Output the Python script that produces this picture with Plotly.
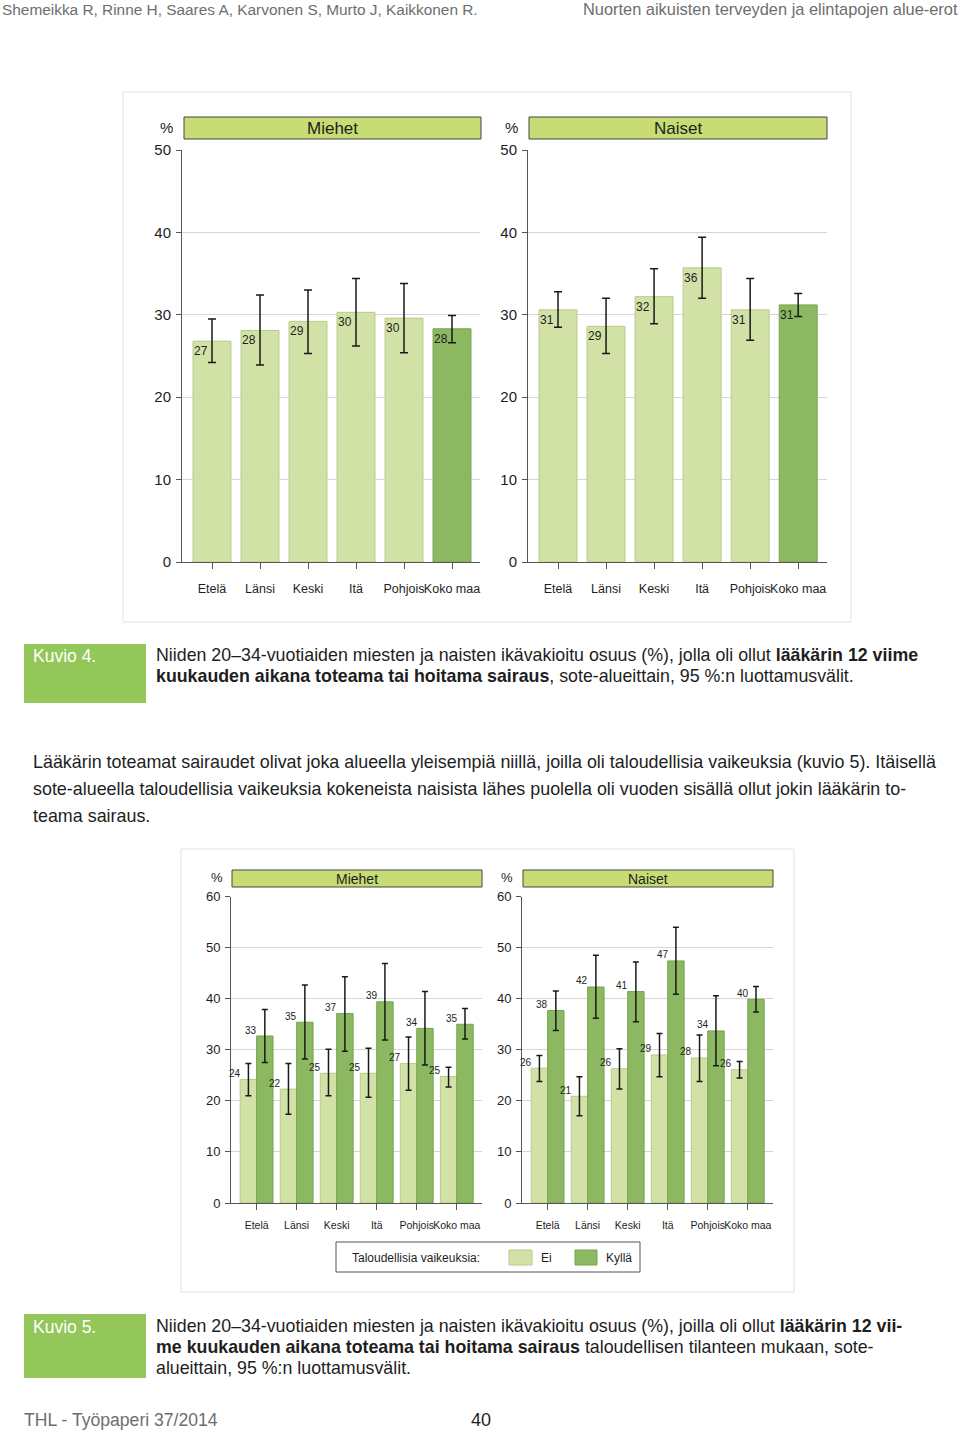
import plotly.graph_objects as go

W, H = 960, 1432

# ---------------- data ----------------
regions = ["Etelä", "Länsi", "Keski", "Itä", "Pohjois", "Koko maa"]

# Kuvio 4
men4 = [26.8, 28.1, 29.2, 30.3, 29.6, 28.3]
men4_hi = [29.5, 32.4, 33.0, 34.4, 33.8, 29.9]
men4_lo = [24.2, 23.9, 25.3, 26.2, 25.4, 26.6]
women4 = [30.6, 28.6, 32.2, 35.7, 30.6, 31.2]
women4_hi = [32.8, 32.0, 35.6, 39.4, 34.4, 32.6]
women4_lo = [28.5, 25.3, 28.9, 32.0, 26.9, 29.8]

# Kuvio 5 (Ei / Kyllä = taloudellisia vaikeuksia)
men5_ei = [24.2, 22.3, 25.4, 25.4, 27.3, 24.8]
men5_ei_hi = [27.3, 27.3, 30.1, 30.3, 32.5, 26.6]
men5_ei_lo = [21.0, 17.4, 21.0, 20.7, 22.1, 22.7]
men5_ky = [32.7, 35.4, 37.1, 39.4, 34.2, 35.0]
men5_ky_hi = [37.9, 42.7, 44.3, 46.9, 41.4, 38.1]
men5_ky_lo = [27.5, 28.2, 29.7, 31.9, 27.0, 32.1]
women5_ei = [26.4, 20.9, 26.3, 29.0, 28.4, 26.1]
women5_ei_hi = [28.9, 24.7, 30.2, 33.2, 32.9, 27.7]
women5_ei_lo = [23.8, 17.1, 22.3, 24.7, 23.8, 24.5]
women5_ky = [37.7, 42.3, 41.4, 47.4, 33.7, 39.9]
women5_ky_hi = [41.5, 48.5, 47.2, 54.0, 40.6, 42.4]
women5_ky_lo = [33.8, 36.2, 35.5, 40.9, 26.9, 37.4]

# ---------------- style ----------------
LIGHT, LIGHT_LINE = "#d2e2a7", "#b7ca8c"
DARK, DARK_LINE = "#8bb860", "#77a44f"
TITLE_FILL = "#c7dc74"
KUVIO_FILL = "#93c75a"
AXIS = "#555555"
GRID = "#d6d6d6"
TXT = "#1e1e1e"
FONT = "Liberation Sans, Arial, sans-serif"


def px(x):
    return x / W


def py(y):
    return 1 - y / H


fig = go.Figure()
annotations = []
shapes = []


def err(hi, lo, vals, w):
    return dict(type="data", symmetric=False,
                array=[h - v for h, v in zip(hi, vals)],
                arrayminus=[v - l for v, l in zip(vals, lo)],
                color="#1a1a1a", thickness=1.5, width=w)


def add_single(vals, hi, lo, xa, ya):
    colors = [LIGHT] * 5 + [DARK]
    lines = [LIGHT_LINE] * 5 + [DARK_LINE]
    fig.add_trace(go.Bar(x=regions, y=vals, width=0.79, offset=-0.395,
                         marker=dict(color=colors, line=dict(color=lines, width=1)),
                         error_y=err(hi, lo, vals, 4), xaxis=xa, yaxis=ya,
                         showlegend=False, hoverinfo="skip"))
    for i, v in enumerate(vals):
        annotations.append(dict(x=i - 0.395, y=v, xref=xa, yref=ya,
                                text=str(round(v)), showarrow=False, xanchor="left",
                                yanchor="middle", yshift=-10, xshift=-1,
                                font=dict(size=12, color=TXT, family=FONT)))


def add_group(ei, ei_hi, ei_lo, ky, ky_hi, ky_lo, xa, ya):
    bw = 0.41
    fig.add_trace(go.Bar(x=regions, y=ei, width=bw, offset=-bw, name="Ei",
                         marker=dict(color=LIGHT, line=dict(color=LIGHT_LINE, width=1)),
                         error_y=err(ei_hi, ei_lo, ei, 3), xaxis=xa, yaxis=ya,
                         showlegend=False, hoverinfo="skip"))
    fig.add_trace(go.Bar(x=regions, y=ky, width=bw, offset=0, name="Kyllä",
                         marker=dict(color=DARK, line=dict(color=DARK_LINE, width=1)),
                         error_y=err(ky_hi, ky_lo, ky, 3), xaxis=xa, yaxis=ya,
                         showlegend=False, hoverinfo="skip"))
    for i, v in enumerate(ei):
        annotations.append(dict(x=i - bw + 0.07, y=v, xref=xa, yref=ya,
                                text=str(round(v)), showarrow=False, xanchor="right",
                                yanchor="middle", yshift=6,
                                font=dict(size=10, color=TXT, family=FONT)))
    for i, v in enumerate(ky):
        annotations.append(dict(x=i + 0.07, y=v, xref=xa, yref=ya,
                                text=str(round(v)), showarrow=False, xanchor="right",
                                yanchor="middle", yshift=6,
                                font=dict(size=10, color=TXT, family=FONT)))


add_single(men4, men4_hi, men4_lo, "x", "y")
add_single(women4, women4_hi, women4_lo, "x2", "y2")
add_group(men5_ei, men5_ei_hi, men5_ei_lo, men5_ky, men5_ky_hi, men5_ky_lo, "x3", "y3")
add_group(women5_ei, women5_ei_hi, women5_ei_lo, women5_ky, women5_ky_hi, women5_ky_lo, "x4", "y4")


def xaxis_cfg(x0, x1, anchor, rng, fs, standoff):
    return dict(domain=[px(x0), px(x1)], anchor=anchor, type="category", range=rng,
                showline=True, linecolor=AXIS, linewidth=1, ticks="outside", ticklen=6,
                tickcolor=AXIS, showgrid=False, zeroline=False, fixedrange=True,
                automargin=False, tickangle=0,
                tickfont=dict(size=fs, color=TXT, family=FONT), ticklabelstandoff=standoff)


def yaxis_cfg(y0, y1, anchor, top, fs):
    return dict(domain=[py(y0), py(y1)], anchor=anchor, range=[0, top], dtick=10,
                showline=True, linecolor=AXIS, linewidth=1, ticks="outside", ticklen=5,
                tickcolor=AXIS, showgrid=True, gridcolor=GRID, gridwidth=1, zeroline=False,
                fixedrange=True, automargin=False, ticklabelstandoff=2,
                tickfont=dict(size=fs, color=TXT, family=FONT))


layout_axes = dict(
    xaxis=xaxis_cfg(182, 480, "y", [-0.625, 5.583], 12.5, 9),
    yaxis=yaxis_cfg(562, 150, "x", 50, 15),
    xaxis2=xaxis_cfg(528, 827, "y2", [-0.625, 5.6], 12.5, 9),
    yaxis2=yaxis_cfg(562, 150, "x2", 50, 15),
    xaxis3=xaxis_cfg(231, 482, "y3", [-0.64, 5.63], 10.5, 6),
    yaxis3=yaxis_cfg(1203, 896.6, "x3", 60, 13),
    xaxis4=xaxis_cfg(522, 773, "y4", [-0.64, 5.63], 10.5, 6),
    yaxis4=yaxis_cfg(1203, 896.6, "x4", 60, 13),
)


def text(x, y, s, size, color=TXT, anchor="left", family=FONT):
    shift = {"left": -2, "right": 2, "center": 0}[anchor]
    annotations.append(dict(x=px(x), y=py(y), xref="paper", yref="paper", text=s,
                            showarrow=False, xanchor=anchor, yanchor="middle", xshift=shift,
                            font=dict(size=size, color=color, family=family)))


def rect(x0, y0, x1, y1, fill=None, line=None, lw=1, layer="below"):
    shapes.append(dict(type="rect", xref="paper", yref="paper", x0=px(x0), x1=px(x1),
                       y0=py(y1), y1=py(y0), fillcolor=fill or "rgba(0,0,0,0)",
                       line=dict(color=line or "rgba(0,0,0,0)", width=lw if line else 0),
                       layer=layer))


# chart frames
rect(123, 92, 851, 622, line="#e3e3e3")
rect(181, 849, 794, 1292, line="#e3e3e3")

# panel title boxes
rect(184, 117, 481, 139, fill=TITLE_FILL, line="#444", layer="above")
text(332, 128, "Miehet", 17, anchor="center")
rect(529, 117, 827, 139, fill=TITLE_FILL, line="#444", layer="above")
text(678, 128, "Naiset", 17, anchor="center")
text(166, 127, "%", 15, anchor="center")
text(511, 127, "%", 15, anchor="center")

rect(232, 870, 482, 887, fill=TITLE_FILL, line="#444", layer="above")
text(357, 878.5, "Miehet", 14, anchor="center")
rect(523, 870, 773, 887, fill=TITLE_FILL, line="#444", layer="above")
text(648, 878.5, "Naiset", 14, anchor="center")
text(217, 877, "%", 13, anchor="center")
text(507, 877, "%", 13, anchor="center")

# legend
rect(336, 1242, 640, 1272, line="#555")
text(352, 1257.5, "Taloudellisia vaikeuksia:", 12)
rect(509, 1250, 532, 1265, fill=LIGHT, line=LIGHT_LINE)
text(541, 1257.5, "Ei", 12)
rect(575, 1250, 597, 1265, fill=DARK, line=DARK_LINE)
text(606, 1257.5, "Kyllä", 12)

# page header
text(2, 9, "Shemeikka R, Rinne H, Saares A, Karvonen S, Murto J, Kaikkonen R.", 15.4, color="#6e6e6e")
text(958, 9, "Nuorten aikuisten terveyden ja elintapojen alue-erot", 16.4, color="#6e6e6e", anchor="right")

# Kuvio 4 caption
CAP = 17.8
rect(24, 644, 146, 703, fill=KUVIO_FILL)
text(33, 656, "Kuvio 4.", 17.5, color="white")
text(156, 655, "Niiden 20–34-vuotiaiden miesten ja naisten ikävakioitu osuus (%), jolla oli ollut <b>lääkärin 12 viime</b>", CAP)
text(156, 676, "<b>kuukauden aikana toteama tai hoitama sairaus</b>, sote-alueittain, 95 %:n luottamusvälit.", CAP)

# body paragraph
BODY = 17.9
text(33, 762, "Lääkärin toteamat sairaudet olivat joka alueella yleisempiä niillä, joilla oli taloudellisia vaikeuksia (kuvio 5). Itäisellä", BODY)
text(33, 789, "sote-alueella taloudellisia vaikeuksia kokeneista naisista lähes puolella oli vuoden sisällä ollut jokin lääkärin to-", BODY)
text(33, 816, "teama sairaus.", BODY)

# Kuvio 5 caption
rect(24, 1314, 146, 1378, fill=KUVIO_FILL)
text(33, 1327, "Kuvio 5.", 17.5, color="white")
text(156, 1326, "Niiden 20–34-vuotiaiden miesten ja naisten ikävakioitu osuus (%), joilla oli ollut <b>lääkärin 12 vii-</b>", CAP)
text(156, 1347, "<b>me kuukauden aikana toteama tai hoitama sairaus</b> taloudellisen tilanteen mukaan, sote-", CAP)
text(156, 1368, "alueittain, 95 %:n luottamusvälit.", CAP)

# footer
text(24, 1420, "THL - Työpaperi 37/2014", 17.6, color="#6e6e6e")
text(481, 1420, "40", 18, anchor="center")

fig.update_layout(
    template="none",
    width=W, height=H, margin=dict(l=0, r=0, t=0, b=0, pad=0, autoexpand=False),
    paper_bgcolor="white", plot_bgcolor="white",
    barmode="overlay", showlegend=False,
    font=dict(family=FONT, color=TXT),
    annotations=annotations, shapes=shapes,
    **layout_axes,
)

fig.write_html("out.html", config={"displayModeBar": False},
               post_script="document.body.style.margin='0';document.body.style.padding='0';")
